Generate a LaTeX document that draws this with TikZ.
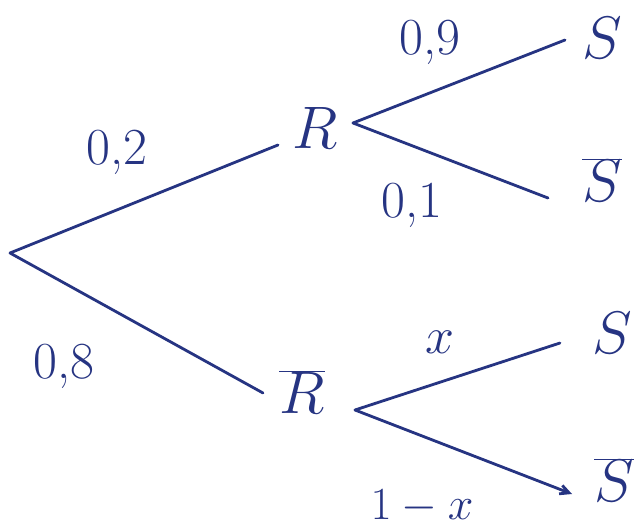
\RequirePackage{fix-cm}
\documentclass[tikz,border=0pt]{standalone}
\usetikzlibrary{arrows.meta}
\definecolor{ink}{RGB}{38,52,130}
\begin{document}
\begin{tikzpicture}[x=1pt,y=-1pt,
  branch/.style={draw=ink,line width=2.8pt,line cap=round},
  lbl/.style={text=ink,font=\fontsize{60}{66}\selectfont,inner sep=0pt},
  prob/.style={text=ink,font=\fontsize{52}{58}\selectfont,inner sep=0pt}]
\useasboundingbox (0,0) rectangle (635,532);
\fill[white] (0,0) rectangle (635,532);
% nodes
\coordinate (root) at (10,253);
\node[lbl] (R) at (315,128) {$R$};
\node[lbl] (Rb) at (302,392) {$\overline{R}$};
\node[lbl] (S1) at (602,38) {$S$};
\node[lbl] (S2) at (602,180) {$\overline{S}$};
\node[lbl] (S3) at (612,333) {$S$};
\node[lbl] (S4) at (614,480) {$\overline{S}$};
% anchor coordinates for branch ends
\coordinate (Rin) at (278,145);
\coordinate (Rout) at (353,123);
\coordinate (Rbin) at (263,393);
\coordinate (Rbout) at (355,410);
\coordinate (S1in) at (565,40);
\coordinate (S2in) at (548,198);
\coordinate (S3in) at (560,343);
\coordinate (S4in) at (572,494);
% connectors
\draw[branch] (root) -- (Rin);
\draw[branch] (root) -- (Rbin);
\draw[branch] (Rout) -- (S1in);
\draw[branch] (Rout) -- (S2in);
\draw[branch] (Rbout) -- (S3in);
\draw[branch,-{Straight Barb[length=9pt,width=9pt]}] (Rbout) -- (S4in);
% probabilities
\node[prob] (p1) at (117,152) {0,2};
\node[prob] (p2) at (64,366) {0,8};
\node[prob] (p3) at (430,42) {0,9};
\node[prob] (p4) at (412,205) {0,1};
\node[prob] (p5) at (440,342) {$x$};
\node[prob,font=\fontsize{46}{52}\selectfont] (p6) at (422,507) {$1-x$};
\end{tikzpicture}
\end{document}
